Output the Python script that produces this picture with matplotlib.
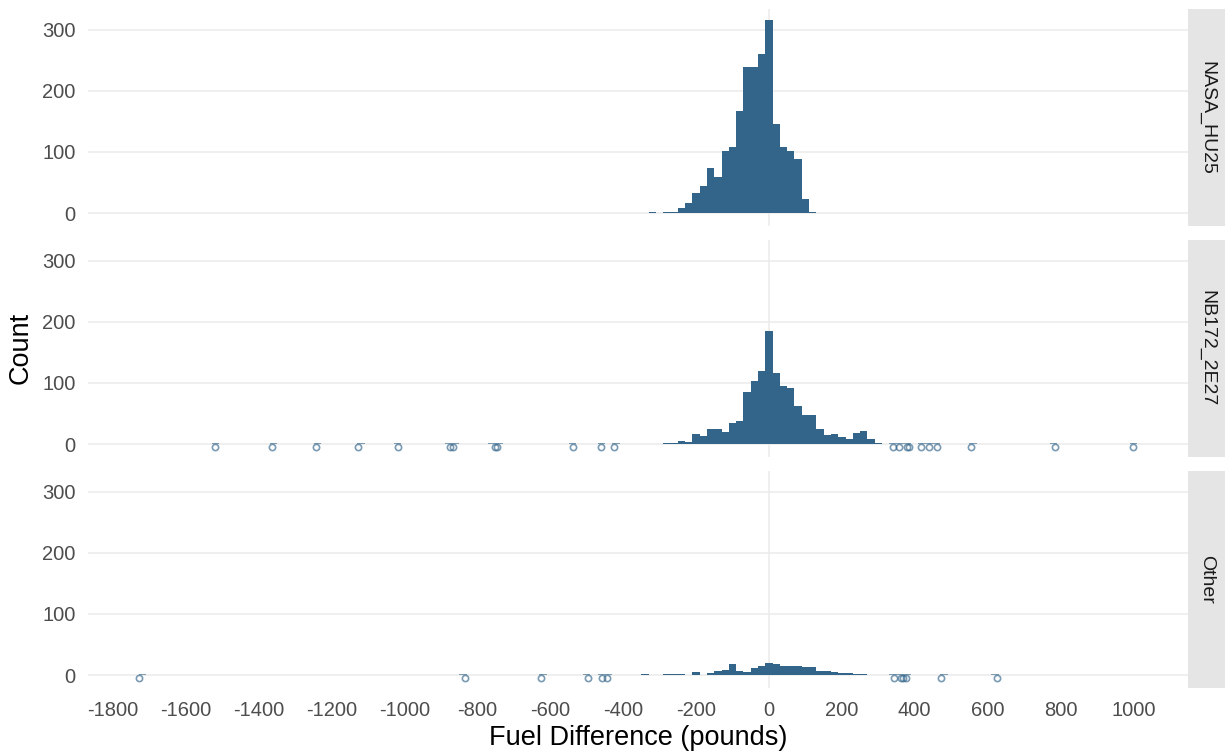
import numpy as np
import matplotlib.pyplot as plt

plt.rcParams['font.family'] = ['Liberation Sans', 'DejaVu Sans']

# 20 lb bins centred on multiples of 20
bin_centers = np.arange(-340, 301, 20)

facets = ["NASA_HU25", "NB172_2E27", "Other"]

nasa_counts = [0, 1, 0, 1, 1, 8, 16, 33, 44, 74, 59, 101, 109, 168, 240, 239, 261,
               317,
               146, 109, 102, 89, 23, 2, 0, 0, 0, 0, 0, 0, 0, 0, 0]
nb172_counts = [0, 0, 0, 2, 1, 5, 4, 17, 13, 25, 25, 20, 34, 38, 86, 104, 120,
                186,
                117, 95, 91, 62, 48, 47, 25, 14, 16, 11, 9, 18, 21, 9, 1]
other_counts = [1, 0, 0, 1, 1, 1, 0, 5, 0, 3, 7, 8, 18, 7, 5, 12, 15,
                19,
                18, 15, 15, 15, 13, 13, 7, 7, 5, 3, 3, 2, 1, 0, 0]

# individual far-out flights shown as points
nasa_outliers = []
nb172_outliers = [-1521, -1364, -1243, -1128, -1019, -875, -868, -752, -746,
                  -538, -460, -425, 341, 357, 378, 385, 417, 439, 460, 555,
                  785, 998]
other_outliers = [-1730, -834, -625, -497, -458, -445, 342, 362, 368, 375,
                  472, 625]

counts = [nasa_counts, nb172_counts, other_counts]
outliers = [nasa_outliers, nb172_outliers, other_outliers]
x_ticks = list(range(-1800, 1001, 200))

fill = '#33658A'
grid = '#EBEBEB'

W, H = 1225, 753
fig = plt.figure(figsize=(W / 100, H / 100), dpi=100)


def rect(x0, y0, w, h):
    return [x0 / W, 1 - (y0 + h) / H, w / W, h / H]


left, right = 88, 1188
panel_h = 217
tops = [9, 240, 471]
edges = np.arange(-1750, 1031, 20)

for i, name in enumerate(facets):
    ax = fig.add_axes(rect(left, tops[i], right - left, panel_h))
    ax.set_xlim(-1869, 1150)
    ax.set_ylim(-21.3, 334.4)
    for s in ax.spines.values():
        s.set_visible(False)
    for yv in [0, 100, 200, 300]:
        ax.axhline(yv, color=grid, lw=1.1, zorder=0)
    ax.axvline(0, color=grid, lw=1.1, zorder=0)

    ax.bar(bin_centers, counts[i], width=20, color=fill, linewidth=0, zorder=2)
    if outliers[i]:
        ax.hist(outliers[i], bins=edges, color=fill, linewidth=0, alpha=0.6,
                zorder=2)
        ax.plot(outliers[i], [-5] * len(outliers[i]), 'o', mfc='none',
                mec=fill, mew=1.2, ms=4.5, alpha=0.65, zorder=3)

    ax.set_yticks([0, 100, 200, 300])
    ax.tick_params(axis='both', length=0, labelsize=14.5, labelcolor='#4D4D4D',
                   pad=9)
    ax.set_xticks(x_ticks)
    if i < 2:
        ax.set_xticklabels([])
    else:
        ax.set_xticklabels([str(v) for v in x_ticks])

    sax = fig.add_axes(rect(right, tops[i], W - right, panel_h))
    sax.set_facecolor('#E5E5E5')
    sax.set_xticks([])
    sax.set_yticks([])
    for s in sax.spines.values():
        s.set_visible(False)
    sax.text(0.5, 0.5, name, rotation=-90, ha='center', va='center',
             fontsize=14, color='#1A1A1A', transform=sax.transAxes)

fig.text(21 / W, 1 - 348 / H, "Count", rotation=90, ha='center', va='center',
         fontsize=19.5, color='black')
fig.text((left + right) / 2 / W, 1 - 738 / H, "Fuel Difference (pounds)",
         ha='center', va='center', fontsize=19.5, color='black')

fig.savefig('out.png', dpi=100)
